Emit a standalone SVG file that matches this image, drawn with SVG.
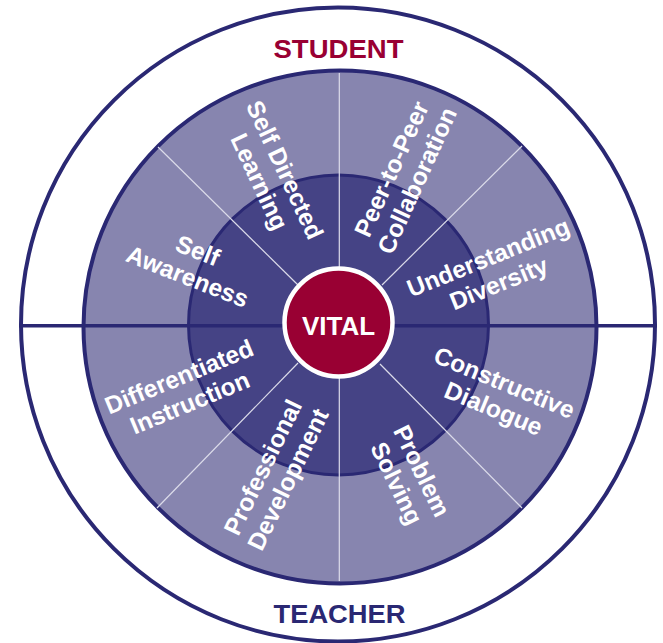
<svg xmlns="http://www.w3.org/2000/svg" width="663" height="643" viewBox="0 0 663 643">
<style>
.ring{stroke:#2A2873;stroke-width:4}
.div{stroke:#DCDCEA;stroke-width:1.2}
.lbl{font-family:"Liberation Sans",Arial,sans-serif;font-weight:bold;font-size:24.5px;fill:#FFFFFF;text-anchor:middle}
.title{font-family:"Liberation Sans",Arial,sans-serif;font-weight:bold;font-size:26px;text-anchor:middle}
</style>
<rect width="663" height="643" fill="#FFFFFF"/>
<g id="outer-ring">
<circle cx="338" cy="324.5" r="317" fill="#FFFFFF" class="ring"/>
</g>
<g id="middle-ring">
<circle cx="340" cy="327" r="256.5" fill="#8785AF" class="ring"/>
</g>
<g id="inner-ring">
<circle cx="338.5" cy="325" r="150" fill="#454385" stroke="#2A2873" stroke-width="3"/>
</g>
<g id="connectors">
<line x1="339.3" y1="73" x2="339.3" y2="270" class="div"/>
<line x1="339.3" y1="378" x2="339.3" y2="581" class="div"/>
<line x1="158" y1="147" x2="298" y2="285" class="div"/>
<line x1="522" y1="146" x2="382" y2="285" class="div"/>
<line x1="157" y1="508" x2="298" y2="363" class="div"/>
<line x1="522" y1="508" x2="380" y2="364" class="div"/>
<line x1="19" y1="325.7" x2="657" y2="325.7" stroke="#2A2873" stroke-width="3.6"/>
</g>
<g id="vital">
<circle cx="338.5" cy="322.5" r="54" fill="#990033" stroke="#FFFFFF" stroke-width="4.5"/>
<text x="338.5" y="335" class="title" font-size="24" fill="#FFFFFF">VITAL</text>
</g>
<g id="student">
<text x="338.5" y="57.5" class="title" fill="#990033" textLength="130" lengthAdjust="spacingAndGlyphs">STUDENT</text>
</g>
<g id="teacher">
<text x="339.5" y="623" class="title" fill="#2A2873" textLength="132" lengthAdjust="spacingAndGlyphs">TEACHER</text>
</g>
<g id="self-directed-learning" transform="translate(271.7,176) rotate(65)">
<text class="lbl" x="0" y="-6">Self Directed</text>
<text class="lbl" x="0" y="22">Learning</text>
</g>
<g id="peer-to-peer-collaboration" transform="translate(404.6,175) rotate(-65.5)">
<text class="lbl" x="0" y="-6">Peer-to-Peer</text>
<text class="lbl" x="0" y="22">Collaboration</text>
</g>
<g id="self-awareness" transform="translate(192.5,264) rotate(21.5)">
<text class="lbl" x="0" y="-6">Self</text>
<text class="lbl" x="0" y="22">Awareness</text>
</g>
<g id="understanding-diversity" transform="translate(493.7,270.8) rotate(-22)">
<text class="lbl" x="0" y="-6">Understanding</text>
<text class="lbl" x="0" y="22">Diversity</text>
</g>
<g id="differentiated-instruction" transform="translate(184.6,390.2) rotate(-22.5)">
<text class="lbl" x="0" y="-6">Differentiated</text>
<text class="lbl" x="0" y="22">Instruction</text>
</g>
<g id="professional-development" transform="translate(275.8,473.5) rotate(-64)">
<text class="lbl" x="0" y="-6">Professional</text>
<text class="lbl" x="0" y="22">Development</text>
</g>
<g id="problem-solving" transform="translate(408.8,477.3) rotate(64)">
<text class="lbl" x="0" y="-6">Problem</text>
<text class="lbl" x="0" y="22">Solving</text>
</g>
<g id="constructive-dialogue" transform="translate(498.8,396) rotate(22.5)">
<text class="lbl" x="0" y="-6">Constructive</text>
<text class="lbl" x="0" y="22">Dialogue</text>
</g>
</svg>
